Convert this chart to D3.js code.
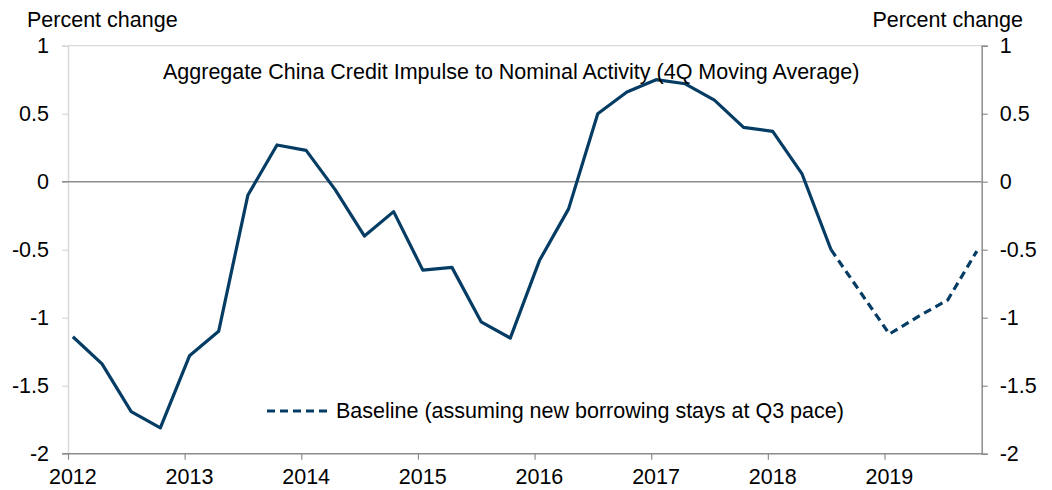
<!DOCTYPE html>
<html>
<head>
<meta charset="utf-8">
<script src="https://cdn.jsdelivr.net/npm/d3@7"></script>
<style>
  body { margin: 0; background: #fff; }
  svg { display: block; font-family: "Liberation Sans", Arial, sans-serif; }
  .tick text { font-size: 21.5px; fill: #000; }
</style>
</head>
<body>
<div class="wrap-chart"></div>
<script>
var
  width = 1052,
  height = 490,
  margin = {top: 45.7, right: 70.3, bottom: 36.3, left: 68},
  fontSize = 21.5,
  lineColor = "#053c64";

// quarterly, 2012Q1 .. 2018Q3 (actual)
var actual = [-1.14, -1.34, -1.69, -1.81, -1.28, -1.10, -0.10, 0.27,
  0.23, -0.06, -0.40, -0.22, -0.65, -0.63, -1.03, -1.15,
  -0.58, -0.20, 0.50, 0.66, 0.75, 0.72, 0.60, 0.40,
  0.37, 0.06, -0.50];
// baseline projection, 2018Q3 .. 2019Q4
var baseline = [-0.50, -0.81, -1.12, -0.99, -0.87, -0.51];
var baselineStart = 26; // quarter index where baseline starts
var years = [2012, 2013, 2014, 2015, 2016, 2017, 2018, 2019];
var yTicks = [1, 0.5, 0, -0.5, -1, -1.5, -2];
var startYear = 2012;

var svg = d3.select(".wrap-chart")
  .append("svg")
  .attr("width", width)
  .attr("height", height);

// months since Jan 2012, axis spans Jan 2012 .. Oct 2019 (94 monthly slots)
var x = d3.scaleLinear()
  .domain([0, 94])
  .range([margin.left, width - margin.right]);

var y = d3.scaleLinear()
  .domain([-2, 1])
  .range([height - margin.bottom, margin.top]);

function qx(i) {
  return x(i * 3 + 0.5);
}

function fmt(d) {
  return String(d); // plain hyphen for negatives, like the original
}

// top border
svg.append("line")
  .attr("x1", x(0)).attr("x2", x(94))
  .attr("y1", y(1)).attr("y2", y(1))
  .attr("stroke", "#d9d9d9").attr("stroke-width", 1.2);

// left axis
var leftAxis = svg.append("g")
  .attr("transform", "translate(" + x(0) + ",0)")
  .call(d3.axisLeft(y).tickValues(yTicks).tickSize(6).tickPadding(13)
    .tickFormat(fmt));
leftAxis.select(".domain").attr("stroke", "#d9d9d9").attr("stroke-width", 1.5);
leftAxis.selectAll(".tick line").attr("stroke", "#d9d9d9").attr("stroke-width", 1.2);

// right axis
var rightAxis = svg.append("g")
  .attr("transform", "translate(" + x(94) + ",0)")
  .call(d3.axisRight(y).tickValues(yTicks).tickSize(6).tickPadding(12)
    .tickFormat(fmt));
rightAxis.select(".domain").attr("stroke", "#8c8c8c").attr("stroke-width", 1.5);
rightAxis.selectAll(".tick line").attr("stroke", "#8c8c8c").attr("stroke-width", 1.2);

// bottom axis
var bottomAxis = svg.append("g")
  .attr("transform", "translate(0," + y(-2) + ")")
  .call(d3.axisBottom(x).tickValues(years.map(function (d) { return (d - startYear) * 12; }))
    .tickSize(6).tickFormat(""));
bottomAxis.select(".domain").attr("stroke", "#8c8c8c").attr("stroke-width", 1.5)
  .attr("d", "M" + (x(0) - 6) + ",0H" + x(94));
bottomAxis.selectAll(".tick line").attr("stroke", "#8c8c8c").attr("stroke-width", 1.2);

svg.append("g").selectAll("text")
  .data(years).enter()
  .append("text")
  .attr("x", function (d) { return x((d - startYear) * 12 + 0.5); })
  .attr("y", 484)
  .attr("text-anchor", "middle")
  .attr("font-size", fontSize)
  .text(function (d) { return d; });

// zero line
svg.append("line")
  .attr("x1", x(0) - 6).attr("x2", x(94))
  .attr("y1", y(0)).attr("y2", y(0))
  .attr("stroke", "#8c8c8c").attr("stroke-width", 1.5);

var line = d3.line()
  .x(function (d) { return qx(d.i); })
  .y(function (d) { return y(d.v); });

svg.append("path")
  .datum(actual.map(function (v, i) { return {i: i, v: v}; }))
  .attr("fill", "none")
  .attr("stroke", lineColor)
  .attr("stroke-width", 3.2)
  .attr("stroke-linejoin", "round")
  .attr("d", line);

svg.append("path")
  .datum(baseline.map(function (v, i) { return {i: i + baselineStart, v: v}; }))
  .attr("fill", "none")
  .attr("stroke", lineColor)
  .attr("stroke-width", 3.2)
  .attr("stroke-dasharray", "8,5")
  .attr("d", line);

// axis titles
svg.append("text")
  .attr("x", 27).attr("y", 27)
  .attr("font-size", fontSize)
  .text("Percent change");

svg.append("text")
  .attr("x", 1023).attr("y", 27)
  .attr("font-size", fontSize)
  .attr("text-anchor", "end")
  .text("Percent change");

// chart title
svg.append("text")
  .attr("x", 163).attr("y", 79)
  .attr("font-size", fontSize)
  .text("Aggregate China Credit Impulse to Nominal Activity (4Q Moving Average)");

// legend
svg.append("line")
  .attr("x1", 267).attr("x2", 330)
  .attr("y1", 411).attr("y2", 411)
  .attr("stroke", lineColor)
  .attr("stroke-width", 3.2)
  .attr("stroke-dasharray", "8,5");

svg.append("text")
  .attr("x", 336).attr("y", 418)
  .attr("font-size", fontSize)
  .text("Baseline (assuming new borrowing stays at Q3 pace)");
</script>
</body>
</html>
